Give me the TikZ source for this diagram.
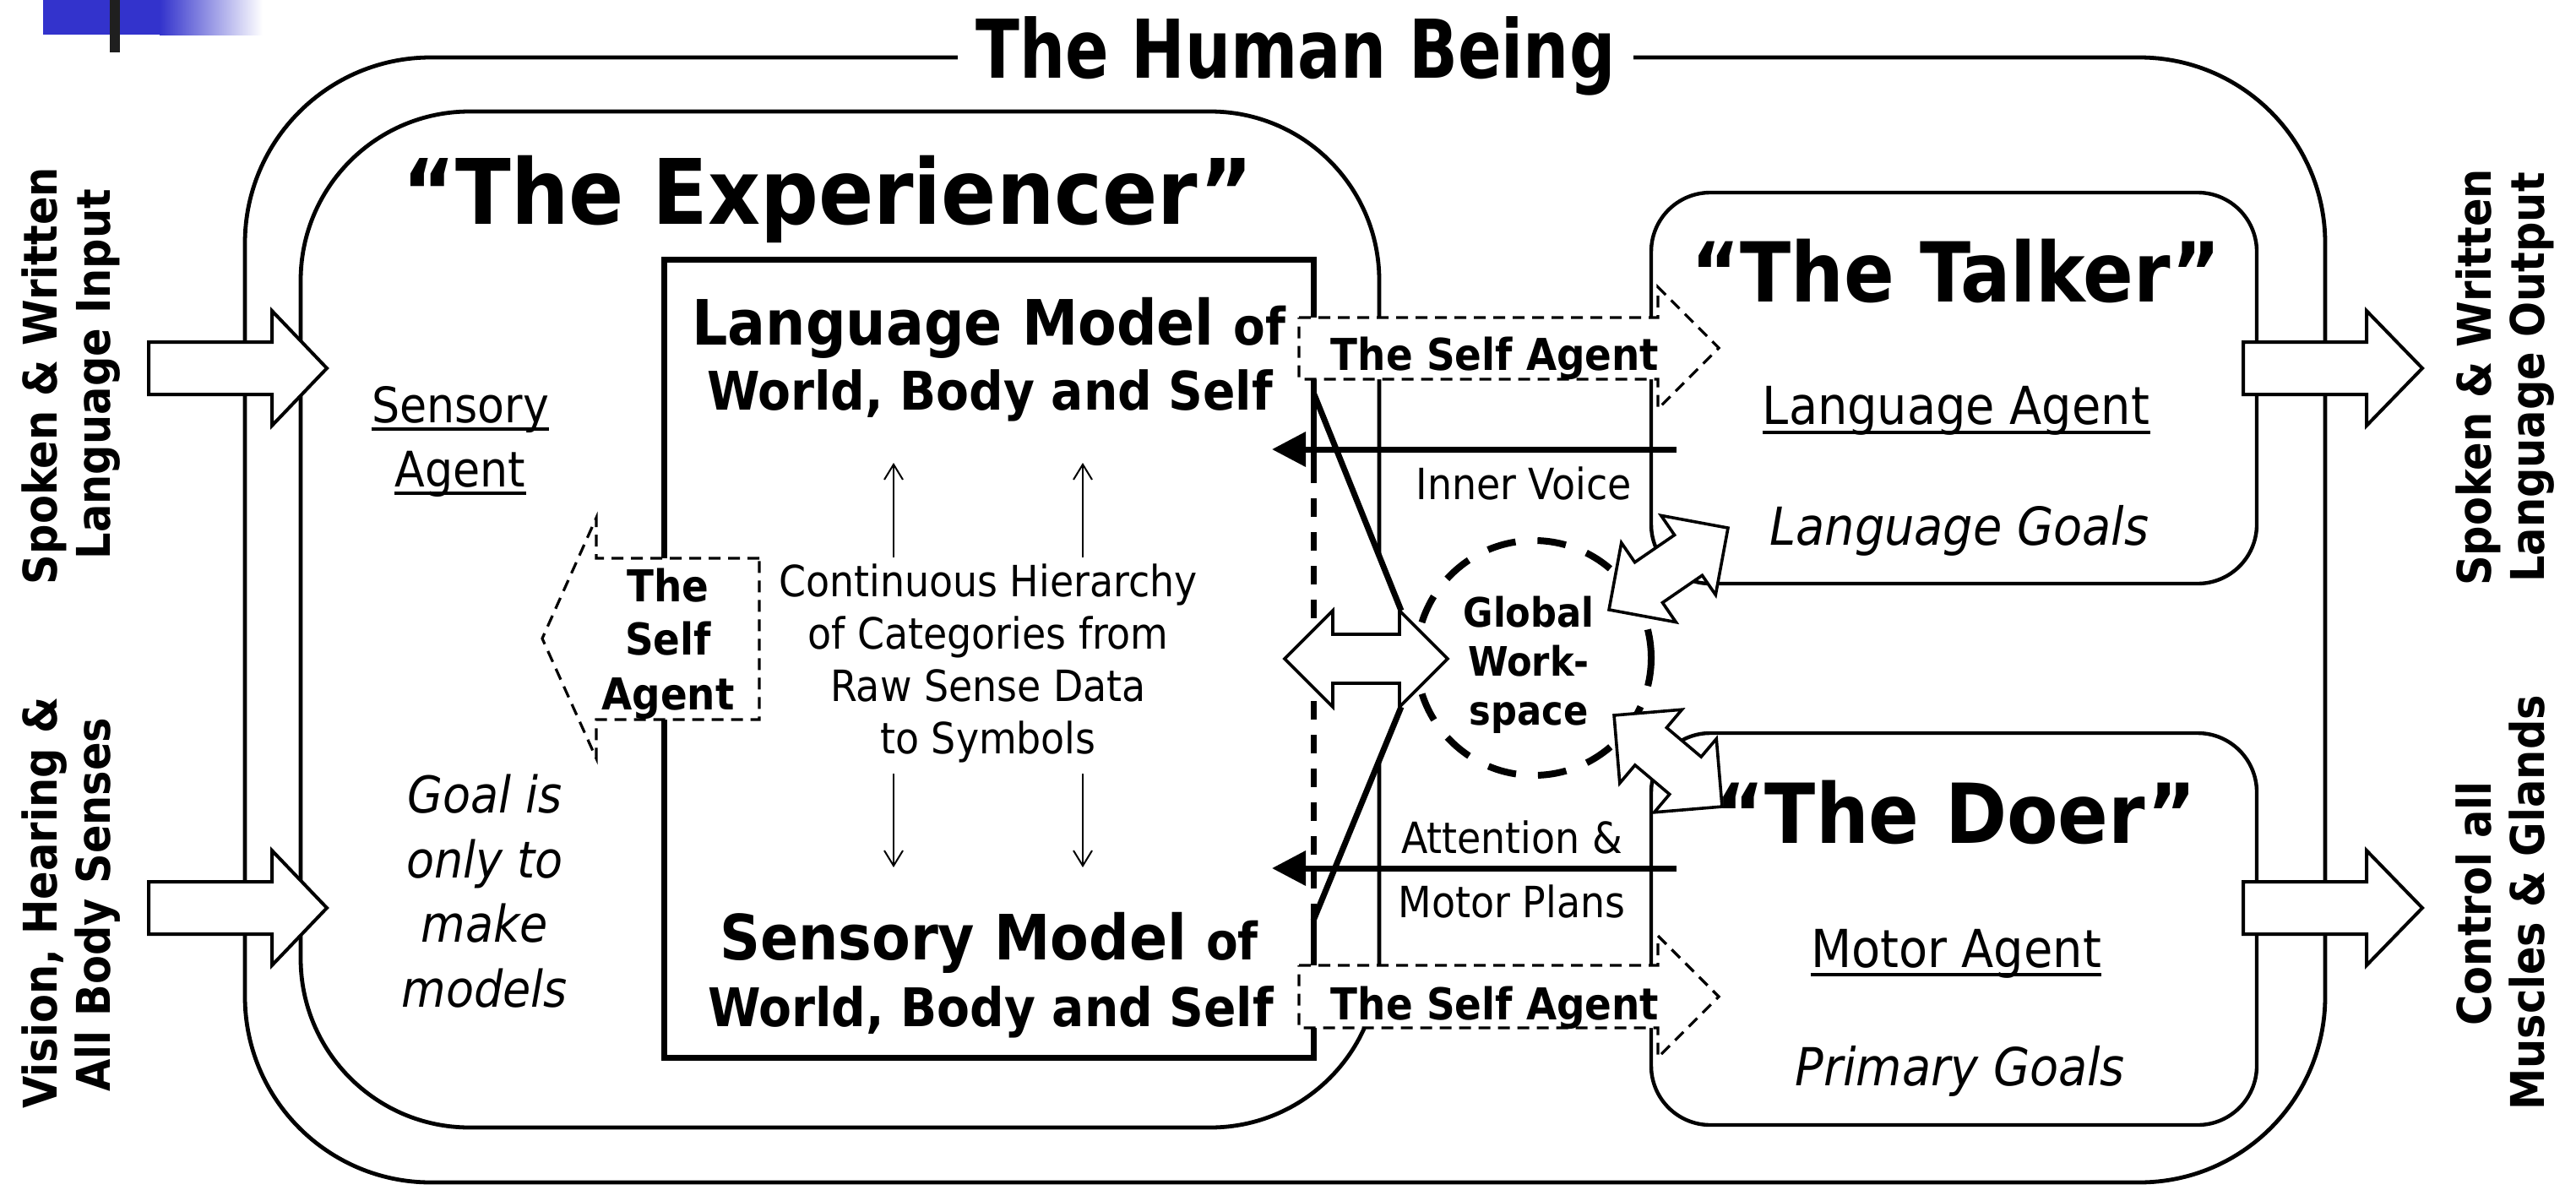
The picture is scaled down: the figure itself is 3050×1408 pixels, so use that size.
\documentclass[tikz,border=0pt]{standalone}
\usepackage{graphicx}
\usepackage{fontspec}
\setmainfont{DejaVu Sans Condensed}[BoldFont={DejaVu Sans Condensed Bold},ItalicFont={DejaVu Sans Condensed Oblique}]
\usetikzlibrary{arrows.meta}
\definecolor{hdrblue}{RGB}{51,51,204}
\newcommand{\fsz}[1]{\fontsize{#1}{#1}\selectfont}
\newcommand{\dblarrow}[4]{%
  \begin{scope}[shift={(#1,#2)},rotate=#3]
    \draw[dblarrowstyle] (-#4,0) -- (-#4+57,-57) -- (-#4+57,-29) -- (#4-57,-29) -- (#4-57,-57) -- (#4,0)
      -- (#4-57,57) -- (#4-57,29) -- (-#4+57,29) -- (-#4+57,57) -- cycle;
  \end{scope}}
\begin{document}
\begin{tikzpicture}[x=0.5pt,y=-0.5pt,
  lbl/.style={inner sep=0pt,anchor=base},
  boxline/.style={line width=2.4pt},
  agentbox/.style={line width=2.2pt,rounded corners=35pt},
  blockarrow/.style={draw,fill=white,line width=2pt,line join=miter},
  dblarrowstyle/.style={draw,fill=white,line width=1.8pt,line join=miter},
  selfagent/.style={draw,fill=white,line width=1.6pt,dash pattern=on 7pt off 4.5pt},
  uline/.style={line width=1.8pt},
  thinarrow/.style={line width=1pt,-{Straight Barb[length=9pt,width=11pt]}},
  voicearrow/.style={line width=3.5pt,-{Triangle[length=20pt,width=20pt]}},
  heavy/.style={line width=3.5pt},
  sidelbl/.style={inner sep=0pt,anchor=base,rotate=90,font=\fsz{27.5pt}\bfseries},
]
\useasboundingbox (0,0) rectangle (3050,1408);

% header decoration
\fill[hdrblue] (51,0) rectangle (190,41);
\shade[left color=hdrblue,right color=white] (189,0) rectangle (311,41);
\fill[black!88] (130,0) rectangle (142,62);

% outer frame: The Human Being
\draw[boxline,rounded corners=110pt] (290,68) rectangle (2753,1400);
\node[lbl,fill=white,inner xsep=11pt] (title) at (1534,92) {\fsz{48pt}\bfseries\scalebox{0.88}[1]{The Human Being}};

% the experiencer
\draw[boxline,rounded corners=100pt] (356,132) rectangle (1633,1335);
% talker and doer
\draw[agentbox] (1955,228) rectangle (2672,691);
\draw[agentbox] (1955,868) rectangle (2672,1332);

% white chevron from the model box towards the workspace
\coordinate (c1) at (1556,467);
\coordinate (c2) at (1659,723);
\coordinate (c3) at (1714,780);
\coordinate (c4) at (1659,837);
\coordinate (c5) at (1555,1090);
\fill[white] (c1) -- (c2) -- (c3) -- (c4) -- (c5) -- cycle;

% model box
\coordinate (mA) at (1555,550);
\coordinate (mB) at (1555,1070);
\draw[heavy,line join=miter] (mA) -- (1555,307) -- (786,307) -- (786,1252) -- (1555,1252) -- (mB);
\draw[heavy,dash pattern=on 11pt off 9pt] (mA) -- (mB);
\draw[heavy] (c1) -- (c2);
\draw[heavy] (c4) -- (c5);

% global workspace
\node[circle,draw,line width=4pt,dash pattern=on 17pt off 13pt,minimum size=139pt,inner sep=0pt] (gw) at (1816,779) {};

% double arrows
\dblarrow{1617.5}{780}{0}{96.5}
\dblarrow{1975.5}{673.5}{34.5}{85.5}
\dblarrow{1975}{901}{-40.2}{83.75}

% self agent arrows
\draw[selfagent] (1538,376) -- (1963,376) -- (1963,340) -- (2035,412) -- (1963,484) -- (1963,449) -- (1538,449) -- cycle;
\draw[selfagent] (1538,1143) -- (1963,1143) -- (1963,1108) -- (2035,1180) -- (1963,1252) -- (1963,1217) -- (1538,1217) -- cycle;
\draw[selfagent] (899,661) -- (706,661) -- (706,613) -- (642,756) -- (706,898) -- (706,852) -- (899,852) -- cycle;

% inner voice / attention arrows
\coordinate (ivS) at (1985,532);
\coordinate (ivE) at (1506,532);
\coordinate (atS) at (1985,1028);
\coordinate (atE) at (1506,1028);
\draw[voicearrow] (ivS) -- (ivE);
\draw[voicearrow] (atS) -- (atE);

% input / output block arrows
\draw[blockarrow] (176,405) -- (322,405) -- (322,368) -- (387,436) -- (322,504) -- (322,467) -- (176,467) -- cycle;
\draw[blockarrow] (176,1044) -- (322,1044) -- (322,1007) -- (387,1075) -- (322,1143) -- (322,1106) -- (176,1106) -- cycle;
\draw[blockarrow] (2656,405) -- (2802,405) -- (2802,368) -- (2868,436) -- (2802,504) -- (2802,467) -- (2656,467) -- cycle;
\draw[blockarrow] (2656,1044) -- (2802,1044) -- (2802,1007) -- (2868,1075) -- (2802,1143) -- (2802,1106) -- (2656,1106) -- cycle;

% hierarchy arrows
\coordinate (u1s) at (1058,660); \coordinate (u1e) at (1058,548);
\coordinate (u2s) at (1282,660); \coordinate (u2e) at (1282,548);
\coordinate (d1s) at (1058,916); \coordinate (d1e) at (1058,1027);
\coordinate (d2s) at (1282,916); \coordinate (d2e) at (1282,1027);
\draw[thinarrow] (u1s) -- (u1e);
\draw[thinarrow] (u2s) -- (u2e);
\draw[thinarrow] (d1s) -- (d1e);
\draw[thinarrow] (d2s) -- (d2e);

% ---- texts ----
\node[lbl] (exptitle) at (980,265) {\fsz{53.5pt}\bfseries “The Experiencer”};
\node[lbl] (talktitle) at (2316,357) {\fsz{49pt}\bfseries “The Talker”};
\node[lbl] (doertitle) at (2316,998) {\fsz{49pt}\bfseries “The Doer”};

\node[lbl] (lm1) at (1171,408) {\bfseries\fsz{37pt}Language Model \fsz{30.5pt}of};
\node[lbl] (lm2) at (1172,485) {\bfseries\fsz{31.5pt}World, Body and Self};
\node[lbl] (sm1) at (1171,1136) {\bfseries\fsz{37pt}Sensory Model \fsz{30.5pt}of};
\node[lbl] (sm2) at (1173,1215) {\bfseries\fsz{31.5pt}World, Body and Self};

\node[lbl] (ch1) at (1170,706) {\fsz{25.5pt}Continuous Hierarchy};
\node[lbl] (ch2) at (1170,768) {\fsz{25.5pt}of Categories from};
\node[lbl] (ch3) at (1170,830) {\fsz{25.5pt}Raw Sense Data};
\node[lbl] (ch4) at (1170,892) {\fsz{25.5pt}to Symbols};

\node[lbl] (sa1) at (545,500) {\fsz{29pt}Sensory};
\node[lbl] (sa2) at (545,576) {\fsz{29pt}Agent};
\draw[uline] ([yshift=-4pt]sa1.base west) -- ([yshift=-4pt]sa1.base east);
\draw[uline] ([yshift=-4pt]sa2.base west) -- ([yshift=-4pt]sa2.base east);

\node[lbl] (g1) at (574,962) {\fsz{30pt}\itshape Goal is};
\node[lbl] (g2) at (574,1039) {\fsz{30pt}\itshape only to};
\node[lbl] (g3) at (574,1115) {\fsz{30pt}\itshape make};
\node[lbl] (g4) at (574,1192) {\fsz{30pt}\itshape models};

\node[lbl] (la) at (2316,502) {\fsz{31pt}Language Agent};
\draw[uline] ([yshift=-5pt]la.base west) -- ([yshift=-5pt]la.base east);
\node[lbl] (lg) at (2320,645) {\fsz{31pt}\itshape Language Goals};
\node[lbl] (ma) at (2316,1145) {\fsz{31pt}Motor Agent};
\draw[uline] ([yshift=-4.5pt]ma.base west) -- ([yshift=-4.5pt]ma.base east);
\node[lbl] (pg) at (2321,1285) {\fsz{31pt}\itshape Primary Goals};

\node[lbl] (st1) at (1770,438) {\fsz{26pt}\bfseries The Self Agent};
\node[lbl] (st2) at (1770,1207) {\fsz{26pt}\bfseries The Self Agent};
\node[lbl] (sl1) at (791,712) {\fsz{26pt}\bfseries The};
\node[lbl] (sl2) at (791,775) {\fsz{26pt}\bfseries Self};
\node[lbl] (sl3) at (791,840) {\fsz{26pt}\bfseries Agent};

\node[lbl] (gw1) at (1810,742) {\fsz{24pt}\bfseries Global};
\node[lbl] (gw2) at (1810,800) {\fsz{24pt}\bfseries Work-};
\node[lbl] (gw3) at (1810,858) {\fsz{24pt}\bfseries space};

\node[lbl] (iv) at (1804,591) {\fsz{25.5pt}Inner Voice};
\node[lbl] (at1) at (1790,1010) {\fsz{25.5pt}Attention \&};
\node[lbl] (at2) at (1790,1086) {\fsz{25.5pt}Motor Plans};

\node[sidelbl] (in1) at (67,445) {Spoken \& Written};
\node[sidelbl] (in2) at (130,443) {Language Input};
\node[sidelbl] (in3) at (67,1069) {Vision, Hearing \&};
\node[sidelbl] (in4) at (130,1071) {All Body Senses};
\node[sidelbl] (out1) at (2949,447) {Spoken \& Written};
\node[sidelbl] (out2) at (3012,447) {Language Output};
\node[sidelbl] (out3) at (2949,1070) {Control all};
\node[sidelbl] (out4) at (3012,1069) {Muscles \& Glands};
\end{tikzpicture}
\end{document}
